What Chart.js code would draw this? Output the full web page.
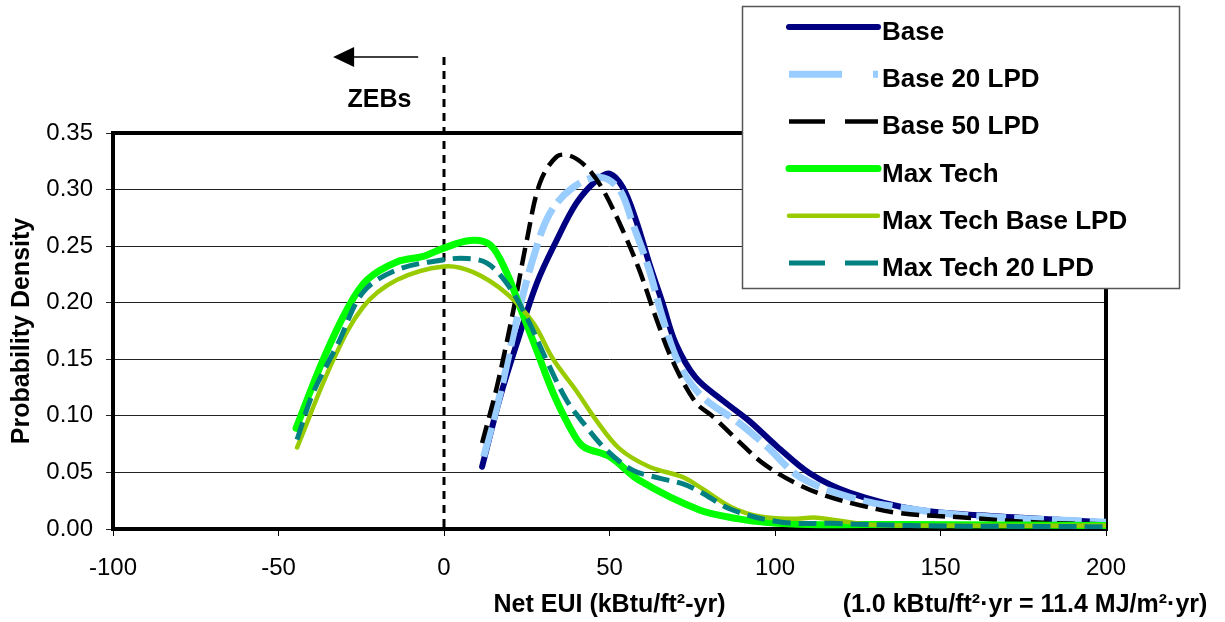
<!DOCTYPE html>
<html>
<head>
<meta charset="utf-8">
<script src="https://cdn.jsdelivr.net/npm/chart.js@4"></script>
<style>
  html, body { margin: 0; padding: 0; background: #fff; }
</style>
</head>
<body>
<canvas id="myChart" width="1225" height="622"></canvas>
<script>
// values (x = Net EUI, y = probability density)
const labels = ["Base", "Base 20 LPD", "Base 50 LPD", "Max Tech", "Max Tech Base LPD", "Max Tech 20 LPD"];

const baseX = [11.5, 17, 22, 28, 34, 40, 46, 50, 54, 58, 62, 66, 70, 76, 84, 92, 100.6, 110.6, 122.7, 143, 168, 200];
const baseY = [0.055, 0.117, 0.164, 0.217, 0.255, 0.288, 0.308, 0.314, 0.302, 0.273, 0.235, 0.200, 0.164, 0.134, 0.114, 0.096, 0.073, 0.049, 0.032, 0.017, 0.011, 0.006];

const base20X = [12, 17, 22, 27, 32, 39, 47, 53, 57, 62, 66, 71, 78, 89, 97.5, 107.5, 122.7, 137.8, 158, 200];
const base20Y = [0.064, 0.120, 0.185, 0.240, 0.279, 0.302, 0.311, 0.300, 0.270, 0.229, 0.187, 0.146, 0.117, 0.094, 0.073, 0.046, 0.028, 0.019, 0.012, 0.006];

const base50X = [11.5, 16, 21, 25, 29, 34, 38, 43, 48, 54, 59, 64, 69, 76, 81, 88.5, 96.4, 106.6, 115.7, 125.7, 137.8, 158, 178, 200];
const base50Y = [0.076, 0.126, 0.194, 0.255, 0.306, 0.329, 0.330, 0.320, 0.300, 0.264, 0.229, 0.187, 0.149, 0.112, 0.100, 0.079, 0.058, 0.040, 0.029, 0.021, 0.014, 0.010, 0.006, 0.004];

const maxX = [-44.7, -36.6, -29.3, -23.3, -14.3, -6.3, -0.3, 7.9, 14, 19, 23, 28, 33, 38, 42, 50, 59, 77, 89, 97, 110, 140, 200];
const maxY = [0.089, 0.149, 0.194, 0.220, 0.236, 0.241, 0.248, 0.255, 0.251, 0.226, 0.196, 0.158, 0.120, 0.090, 0.073, 0.064, 0.043, 0.017, 0.009, 0.006, 0.004, 0.004, 0.003];

const maxBaseX = [-44.4, -33.5, -24.5, -14.3, 0, 8.8, 19, 27, 33, 40, 46, 53, 62, 72, 77.3, 87, 95.5, 105, 112.7, 128, 150, 200];
const maxBaseY = [0.072, 0.149, 0.196, 0.220, 0.232, 0.227, 0.208, 0.182, 0.150, 0.122, 0.096, 0.071, 0.055, 0.046, 0.037, 0.019, 0.011, 0.009, 0.010, 0.004, 0.003, 0.003];

const max20X = [-44.4, -39.6, -32, -24.5, -14.3, 0, 7, 13, 19, 25, 31, 37, 42, 49, 57, 65, 72, 77.3, 87, 102, 117.5, 140, 200];
const max20Y = [0.079, 0.120, 0.164, 0.209, 0.229, 0.238, 0.239, 0.235, 0.217, 0.187, 0.149, 0.114, 0.094, 0.070, 0.052, 0.045, 0.040, 0.033, 0.017, 0.006, 0.005, 0.003, 0.002];

const xTicks = [-100, -50, 0, 50, 100, 150, 200];
const yTicks = [0, 0.05, 0.10, 0.15, 0.20, 0.25, 0.30, 0.35];

const FONT = '"Liberation Sans", Arial, sans-serif';

function pts(xs, ys) {
  return xs.map((x, i) => ({ x: x, y: ys[i] }));
}

const series = [
  { x: baseX, y: baseY, color: "#000080", width: 6, dash: [], legendDash: [], cap: "round" },
  { x: base20X, y: base20Y, color: "#99CCFF", width: 7, dash: [30, 8], legendDash: [53, 31], cap: "butt" },
  { x: base50X, y: base50Y, color: "#000000", width: 4.5, dash: [18, 8], legendDash: [36, 20], cap: "butt" },
  { x: maxX, y: maxY, color: "#00FF00", width: 7, dash: [], legendDash: [], cap: "round" },
  { x: maxBaseX, y: maxBaseY, color: "#99CC00", width: 4.5, dash: [], legendDash: [], cap: "round" },
  { x: max20X, y: max20Y, color: "#008080", width: 5, dash: [18, 8], legendDash: [36, 20], cap: "butt" },
];

const datasets = series.map((s, i) => ({
  label: labels[i],
  data: pts(s.x, s.y),
  borderColor: s.color,
  borderWidth: s.width,
  borderDash: s.dash,
  borderCapStyle: s.cap,
  borderJoinStyle: "round",
  tension: 0.35,
  pointRadius: 0,
  fill: false,
  order: series.length - i,
}));

// frame, zero line, ZEBs arrow
const decorPlugin = {
  id: "decor",
  beforeDatasetsDraw(chart) {
    const { ctx, chartArea: a, scales } = chart;
    ctx.save();
    ctx.strokeStyle = "#000";
    ctx.lineWidth = 4;
    ctx.strokeRect(a.left, a.top, a.right - a.left, a.bottom - a.top);

    const x0 = scales.x.getPixelForValue(0);
    ctx.lineWidth = 3;
    ctx.setLineDash([8, 6]);
    ctx.beginPath();
    ctx.moveTo(x0, 57);
    ctx.lineTo(x0, a.bottom);
    ctx.stroke();
    ctx.setLineDash([]);

    // arrow pointing left
    const tail = scales.x.getPixelForValue(-7.8);
    const tip = scales.x.getPixelForValue(-33.5);
    ctx.lineWidth = 1.5;
    ctx.beginPath();
    ctx.moveTo(tail, 57);
    ctx.lineTo(tip + 18, 57);
    ctx.stroke();
    ctx.fillStyle = "#000";
    ctx.beginPath();
    ctx.moveTo(tip, 57);
    ctx.lineTo(tip + 21, 47);
    ctx.lineTo(tip + 21, 67);
    ctx.closePath();
    ctx.fill();

    ctx.font = "bold 25px " + FONT;
    ctx.textAlign = "center";
    ctx.textBaseline = "alphabetic";
    ctx.fillText("ZEBs", scales.x.getPixelForValue(-19.5), 107);
    ctx.restore();
  },
  afterDraw(chart) {
    const ctx = chart.ctx;
    ctx.save();
    ctx.fillStyle = "#000";
    ctx.font = "bold 25px " + FONT;
    ctx.textAlign = "center";
    ctx.textBaseline = "middle";
    ctx.fillText("(1.0 kBtu/ft\u00B2\u00B7yr = 11.4 MJ/m\u00B2\u00B7yr)", 1025, 605);

    // legend box
    ctx.fillStyle = "#fff";
    ctx.fillRect(742, 6, 438, 283);
    ctx.strokeStyle = "#555";
    ctx.lineWidth = 1.5;
    ctx.strokeRect(742.5, 6.5, 437, 282);
    ctx.font = "bold 26px " + FONT;
    ctx.textAlign = "left";
    ctx.textBaseline = "alphabetic";
    series.forEach((s, i) => {
      const y = 27 + i * 47.2;
      ctx.strokeStyle = s.color;
      ctx.lineWidth = s.width;
      ctx.lineCap = s.cap;
      ctx.setLineDash(s.legendDash);
      ctx.beginPath();
      ctx.moveTo(789, y);
      ctx.lineTo(878, y);
      ctx.stroke();
      ctx.setLineDash([]);
      ctx.fillStyle = "#000";
      ctx.fillText(labels[i], 882, y + 13);
    });
    ctx.restore();
  },
};

const ctx = document.getElementById("myChart").getContext("2d");
const chart = new Chart(ctx, {
  type: "line",
  data: { datasets },
  plugins: [decorPlugin],
  options: {
    responsive: false,
    animation: false,
    layout: { padding: { top: 133, right: 119, left: 0, bottom: 0 } },
    plugins: { legend: { display: false }, tooltip: { enabled: false } },
    scales: {
      x: {
        type: "linear",
        min: -100,
        max: 200,
        afterFit: (s) => { s.height = 93; },
        afterBuildTicks: (s) => { s.ticks = xTicks.map((v) => ({ value: v })); },
        ticks: { color: "#000", font: { family: FONT, size: 24 }, padding: 18, maxRotation: 0 },
        grid: { drawOnChartArea: false, drawTicks: true, tickLength: 7, color: "#000", lineWidth: 1 },
        border: { display: false },
        title: {
          display: true,
          text: "Net EUI (kBtu/ft\u00B2-yr)",
          color: "#000",
          font: { family: FONT, size: 25, weight: "bold" },
          padding: { top: 0, bottom: 2 },
        },
      },
      y: {
        min: 0,
        max: 0.35,
        afterFit: (s) => { s.width = 113; },
        afterBuildTicks: (s) => { s.ticks = yTicks.map((v) => ({ value: v })); },
        ticks: {
          color: "#000",
          font: { family: FONT, size: 24 },
          padding: 13,
          callback: (v) => Number(v).toFixed(2),
        },
        grid: { color: "#222", lineWidth: 1, tickLength: 7 },
        border: { display: false },
        title: {
          display: true,
          text: "Probability Density",
          color: "#000",
          font: { family: FONT, size: 25, weight: "bold" },
          padding: { top: 7, bottom: 0 },
        },
      },
    },
  },
});
</script>
</body>
</html>
